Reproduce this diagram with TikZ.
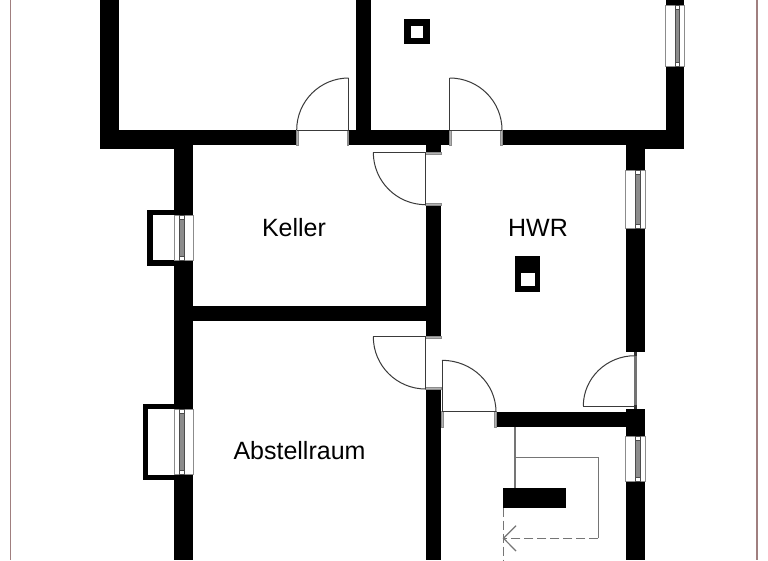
\documentclass[tikz,border=0pt]{standalone}
\usepackage{fontspec}
\setmainfont{Liberation Sans}
\usetikzlibrary{calc}
\definecolor{borderred}{HTML}{A07F7F}
\definecolor{windowgray}{HTML}{8C8C8C}
\definecolor{doorgray}{HTML}{3A3A3A}
\definecolor{stairgray}{HTML}{757575}
\tikzset{
  x=1pt,y=-1pt,
  wallfill/.style={fill=black,draw=none},
  doorline/.style={draw=doorgray,line width=1pt},
  jambmark/.style={draw=windowgray,fill=black!30,line width=0.6pt},
  windowframe/.style={draw=windowgray,fill=white,line width=0.8pt},
  glasspane/.style={draw=black!70,fill=black!45,line width=0.6pt},
  stairline/.style={draw=stairgray,line width=1.2pt},
  stairdash/.style={draw=stairgray,line width=1.2pt,dash pattern=on 9pt off 4pt},
  sheetedge/.style={draw=borderred,line width=1.6pt},
  roomlabel/.style={font=\fontsize{25}{28}\selectfont,text=black,inner sep=0pt},
}
\newcommand{\wallbox}[4]{\fill[wallfill] (#1,#2) rectangle (#3,#4);}
\newcommand{\doorarc}[3]{\draw[doorline] (#1) .. controls ($(#1)!.5523!(#3)$) and ($(#2)!.5523!(#3)$) .. (#2);}
% vertical window: x1,y1,x2,y2, glass x1, glass x2
\newcommand{\windowbox}[6]{%
  \draw[windowframe] (#1,#2) rectangle (#3,#4);
  \draw[glasspane] (#5,#2+4) rectangle (#6,#4-4);
  \draw[draw=black!70,fill=white,line width=0.6pt] (#5,#2) rectangle (#6,#2+4);
  \draw[draw=black!70,fill=white,line width=0.6pt] (#5,#4-4) rectangle (#6,#4);
}
\begin{document}
\begin{tikzpicture}
\useasboundingbox (0,0) rectangle (768,560);
\fill[white] (0,0) rectangle (768,560);
% sheet edges
\draw[sheetedge] (10.5,0) -- (10.5,560);
\draw[sheetedge] (756.7,0) -- (756.7,560);
% walls upper rooms
\wallbox{99.5}{0}{118.7}{149}
\wallbox{99.5}{130}{174.3}{149}
\wallbox{174.3}{130}{296.7}{145.3}
\wallbox{348.7}{130}{449.7}{145.3}
\wallbox{356}{0}{371.3}{130}
\wallbox{502}{130}{684.3}{145.3}
\wallbox{625.7}{145}{684.3}{149}
\wallbox{665.7}{66}{684.3}{149}
\wallbox{665.7}{0}{684.3}{5}
% left wall
\wallbox{174.3}{145}{193.3}{215}
\wallbox{174.3}{260}{193.3}{409.3}
\wallbox{174.3}{474.7}{193.3}{560}
% light wells
\wallbox{147.3}{209.7}{174.3}{215}
\wallbox{147.3}{209.7}{153.3}{266}
\wallbox{147.3}{260}{174.3}{266}
\wallbox{142.7}{404}{174.3}{409.3}
\wallbox{142.7}{404}{148.3}{480}
\wallbox{142.7}{474.7}{174.3}{480}
% inner walls
\wallbox{193}{305.7}{425.7}{321.3}
\wallbox{425.7}{145}{441}{152.3}
\wallbox{425.7}{204.7}{441}{336.7}
\wallbox{425.7}{389}{441}{560}
% right wall
\wallbox{625.7}{145}{645.3}{170}
\wallbox{625.7}{228.7}{645.3}{352}
\wallbox{625.7}{409.3}{645.3}{436.7}
\wallbox{625.7}{481.7}{645.3}{560}
\wallbox{496}{411.7}{625.7}{427.3}
% windows
\windowbox{665.7}{5}{684.3}{66}{675}{679.3}
\windowbox{625.7}{170}{645.3}{228.7}{635.5}{640}
\windowbox{625.7}{436.7}{645.3}{481.7}{635.7}{640}
\windowbox{174.3}{215}{193.3}{260}{179.3}{184}
\windowbox{174.3}{409.3}{193.3}{474.7}{179.3}{184}
% chimneys
\wallbox{404.3}{19.3}{429.7}{44.3}
\fill[white] (410.7,25.7) rectangle (423.3,38.3);
\wallbox{514.5}{255.7}{540.3}{292}
\fill[white] (521.3,273) rectangle (534.7,285.7);
% door 1 (Keller, top)
\draw[jambmark] (296.7,130) rectangle (298,145.3);
\draw[jambmark] (347.4,130) rectangle (348.7,145.3);
\draw[doorline] (296.7,130.5) -- (348.7,130.5) -- (348.7,78);
\doorarc{348.7,78}{296.7,130}{296.7,78}
% door 2 (HWR, top)
\draw[jambmark] (449.7,130) rectangle (451,145.3);
\draw[jambmark] (500.7,130) rectangle (502,145.3);
\draw[doorline] (502,130.5) -- (449.7,130.5) -- (449.7,78);
\doorarc{449.7,78}{502,130}{502,78}
% door 3 (Keller/HWR)
\draw[jambmark] (425.7,152.3) rectangle (441,154.3);
\draw[jambmark] (425.7,203.4) rectangle (441,204.9);
\draw[doorline] (425.7,204.7) -- (425.7,152.3) -- (373.3,152.3);
\doorarc{373.3,152.3}{425.7,204.7}{373.3,204.7}
% door 4 (Abstellraum)
\draw[jambmark] (425.7,336.7) rectangle (441,338.4);
\draw[jambmark] (425.7,387.6) rectangle (441,389);
\draw[doorline] (425.7,389) -- (425.7,336.7) -- (373.3,336.7);
\doorarc{373.3,336.7}{425.7,389}{373.3,389}
% door 5 (stair)
\draw[jambmark] (441.7,411.7) rectangle (443,427.3);
\draw[jambmark] (494.7,411.7) rectangle (496,427.3);
\draw[doorline] (496,411.9) -- (442,411.9) -- (442,360.3);
\doorarc{442,360.3}{496,411.9}{496,360.3}
% door 6 (right wall)
\fill[black!55] (633.7,352) rectangle (636.7,409.3);
\fill[black!80] (634,352) rectangle (637,356);
\fill[black!80] (634,405) rectangle (637,409.3);
\draw[doorline] (583.3,406) -- (635,406);
\doorarc{583.3,406}{635,355.7}{583.3,355.7}
% stairs
\draw[stairline] (515,427.3) -- (515,488);
\draw[stairline] (515,457.7) -- (598.3,457.7) -- (598.3,538.3);
\draw[stairdash] (598.3,538.3) -- (503.5,538.3);
\draw[stairdash] (503.5,507.5) -- (503.5,560);
\wallbox{503.3}{488}{565.7}{507.7}
\draw[stairline] (516,525.7) -- (503.5,538.3) -- (516,551);
% labels
\node[roomlabel] (keller) at (294,228) {Keller};
\node[roomlabel] (hwr) at (538,228) {HWR};
\node[roomlabel] (abstell) at (299.5,451) {Abstellraum};
\end{tikzpicture}
\end{document}
